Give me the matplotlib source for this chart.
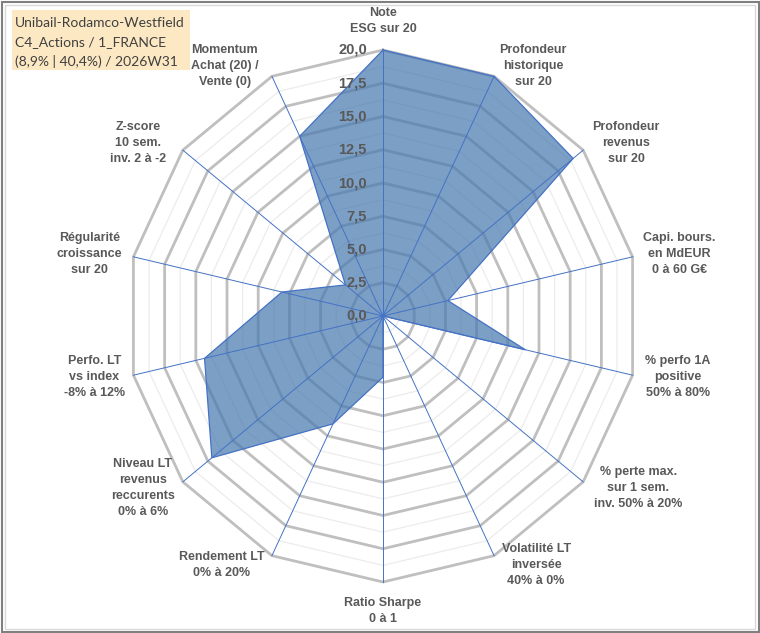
import numpy as np
import matplotlib
matplotlib.use("Agg")
import matplotlib.pyplot as plt
from matplotlib.patches import Rectangle

# axis labels, clockwise from the top
axis_labels = [
    "Note\nESG sur 20",
    "Profondeur\nhistorique\nsur 20",
    "Profondeur\nrevenus\nsur 20",
    "Capi. bours.\nen MdEUR\n0 à 60 G€",
    "% perfo 1A\npositive\n50% à 80%",
    "% perte max.\nsur 1 sem.\ninv. 50% à 20%",
    "Volatilité LT\ninversée\n40% à 0%",
    "Ratio Sharpe\n0 à 1",
    "Rendement LT\n0% à 20%",
    "Niveau LT\nrevenus\nreccurents\n0% à 6%",
    "Perfo. LT\nvs index\n-8% à 12%",
    "Régularité\ncroissance\nsur 20",
    "Z-score\n10 sem.\ninv. 2 à -2",
    "Momentum\nAchat (20) /\nVente (0)",
]
scores = [20, 20, 19, 5.2, 11.4, 0, 0, 4.6, 9.0, 17.1, 14.3, 8.1, 3.75, 15]
ticks = [0, 2.5, 5, 7.5, 10, 12.5, 15, 17.5, 20]
title_lines = ["Unibail-Rodamco-Westfield", "C4_Actions / 1_FRANCE",
               "(8,9% | 40,4%) / 2026W31"]

# label offsets from the outer vertex, in pixels
label_off = [(0, 29), (39, 10), (43, 7), (47, 3), (45, -2), (55, -6), (42, -9),
             (0, -29), (-50, -9), (-40, -6), (-39, -2), (-44, 3), (-45, 7), (-47, 10)]

W, H = 760, 633
cx, cy = 383, 316          # centre in pixels
sx, sy = 12.8, 13.3        # pixels per unit

fig = plt.figure(figsize=(W / 100, H / 100), dpi=100)
ax = fig.add_axes([0, 0, 1, 1])
ax.set_xlim(-cx / sx, (W - cx) / sx)
ax.set_ylim(-(H - cy) / sy, cy / sy)
ax.axis("off")

n = len(scores)
theta = np.arange(n) * 2 * np.pi / n
ux, uy = np.sin(theta), np.cos(theta)

def ring(r):
    return np.append(r * ux, r * ux[0]), np.append(r * uy, r * uy[0])

# minor rings
for r in np.arange(1.25, 20, 2.5):
    x, y = ring(r)
    ax.plot(x, y, color="#ececec", lw=0.9, zorder=1)
# major rings
for r in ticks[1:]:
    x, y = ring(r)
    ax.plot(x, y, color="#bfbfbf", lw=2.0, zorder=2)

# filled series
vals = np.array(scores)
px, py = vals * ux, vals * uy
ax.fill(px, py, facecolor="#4a7ab0", alpha=0.72, edgecolor="none", zorder=3)
ax.plot(np.append(px, px[0]), np.append(py, py[0]), color="#4472c4", lw=0.9, zorder=5)

# spokes
for i in range(n):
    ax.plot([0, 20 * ux[i]], [0, 20 * uy[i]], color="#4472c4", lw=0.7, zorder=4)

# tick labels on the top axis
for t in ticks:
    ax.text(-1.25, t, f"{t:.1f}".replace(".", ","), ha="right", va="center",
            fontsize=10.5, fontweight="bold", color="#595959",
            family="Liberation Sans", zorder=6)

# axis labels
for i, lab in enumerate(axis_labels):
    ax.annotate(lab, xy=(20 * ux[i], 20 * uy[i]), xytext=label_off[i],
                textcoords="offset pixels", ha="center", va="center",
                multialignment="center", fontsize=9, fontweight="bold",
                color="#595959", family="Liberation Sans", linespacing=1.45)

# title box
fig.patches.append(Rectangle((12 / W, 1 - 70 / H), 178 / W, 60 / H,
                             transform=fig.transFigure, facecolor="#fce8c3",
                             edgecolor="none", zorder=0))
for j, line in enumerate(title_lines):
    fig.text(15 / W, 1 - (23 + 19 * j) / H, line, ha="left", va="center",
             fontsize=10, color="#404040", family="Lato")

# chart frame
fig.patches.append(Rectangle((1.5 / W, 1.5 / H), (W - 3) / W, (H - 3) / H,
                             transform=fig.transFigure, fill=False,
                             edgecolor="#7f7f7f", lw=1.5))
fig.patches.append(Rectangle((5 / W, 4 / H), (W - 10) / W, (H - 9) / H,
                             transform=fig.transFigure, fill=False,
                             edgecolor="#d9d9d9", lw=1))

fig.savefig("out.png", dpi=100)
